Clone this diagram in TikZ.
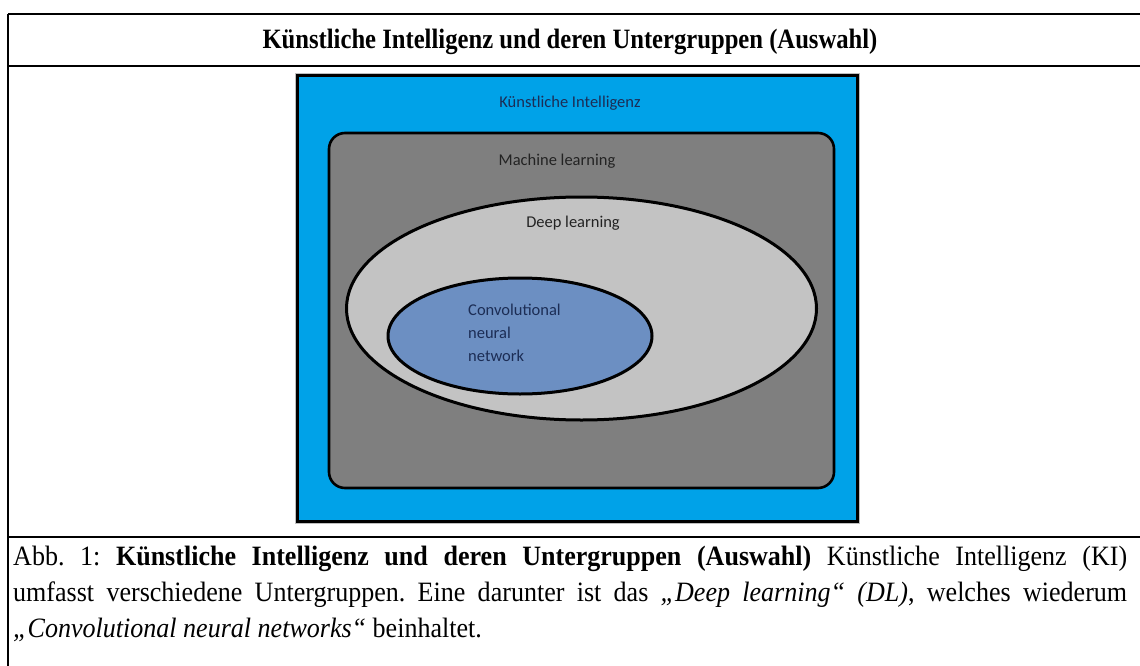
\documentclass[tikz,border=0pt]{standalone}
\usepackage{fontspec}
\setmainfont{Liberation Serif}[FakeStretch=0.93]
\newfontfamily\titlefont{Liberation Serif}[FakeStretch=0.88]
\newfontfamily\calfont{Carlito}
\usetikzlibrary{shapes.geometric}
\definecolor{kiblue}{RGB}{0,162,232}
\definecolor{mlgray}{RGB}{127,127,127}
\definecolor{dlgray}{RGB}{195,195,195}
\definecolor{cnnblue}{RGB}{108,143,194}
\definecolor{navy}{RGB}{28,45,85}
\definecolor{darktext}{RGB}{35,35,35}
\tikzset{
  rule/.style={line width=2.5pt, black},
  inlabel/.style={font=\calfont\fontsize{16.5}{23}\selectfont, inner sep=0pt},
}
\begin{document}
\frenchspacing
\begin{tikzpicture}[x=1pt,y=-1pt]
\useasboundingbox (0,0) rectangle (1140,666);
\fill[white] (0,0) rectangle (1140,666);
% table frame
\coordinate (tl) at (8,14);
\coordinate (tr) at (1140,14);
\coordinate (bl) at (8,666);
\coordinate (h1l) at (8,66);
\coordinate (h1r) at (1140,66);
\coordinate (h2l) at (8,537);
\coordinate (h2r) at (1140,537);
\draw[rule] (tl) -- (tr);
\draw[rule] (h1l) -- (h1r);
\draw[rule] (h2l) -- (h2r);
\draw[rule] (tl) -- (bl);
% title
\node[anchor=base, inner sep=0pt, font=\titlefont\fontsize{28}{32}\selectfont\bfseries] (title) at (570,49)
  {Künstliche Intelligenz und deren Untergruppen (Auswahl)};
% diagram
\node[draw=black!25, line width=1pt, minimum width=564pt, minimum height=449pt, inner sep=0pt] (kishadow) at (577,298.5) {};
\node[draw=black, fill=kiblue, line width=3pt, minimum width=560pt, minimum height=445pt, inner sep=0pt] (ki) at (577,298.5) {};
\node[draw=black, fill=mlgray, line width=2.6pt, rounded corners=16pt, minimum width=505pt, minimum height=355pt, inner sep=0pt] (ml) at (581.5,310.5) {};
\node[draw=black, fill=dlgray, line width=3pt, ellipse, minimum width=470pt, minimum height=223pt, inner sep=0pt] (dl) at (581.5,308.5) {};
\node[draw=black, fill=cnnblue, line width=3pt, ellipse, minimum width=264pt, minimum height=116pt, inner sep=0pt] (cnn) at (520,336) {};
\node[inlabel, text=navy] (kilabel) at (570,103) {Künstliche Intelligenz};
\node[inlabel, text=darktext] (mllabel) at (557,161) {Machine learning};
\node[inlabel, text=darktext] (dllabel) at (573,223) {Deep learning};
\node[inlabel, text=navy, align=left, anchor=north west] (cnnlabel) at (468,304) {Convolutional\\neural\\network};
% caption
\node[anchor=north west, inner sep=0pt, text width=1114pt, align=justify,
      font=\fontsize{28}{36}\selectfont] (caption) at (13,546)
  {\hyphenpenalty=10000 Abb. 1: \textbf{Künstliche Intelligenz und deren Untergruppen (Auswahl)} Künstliche Intelligenz (KI)\linebreak
   umfasst verschiedene Untergruppen. Eine darunter ist das \textit{„Deep learning“ (DL)}, welches wiederum\linebreak
   \textit{„Convolutional neural networks“} beinhaltet.};
\end{tikzpicture}
\end{document}
